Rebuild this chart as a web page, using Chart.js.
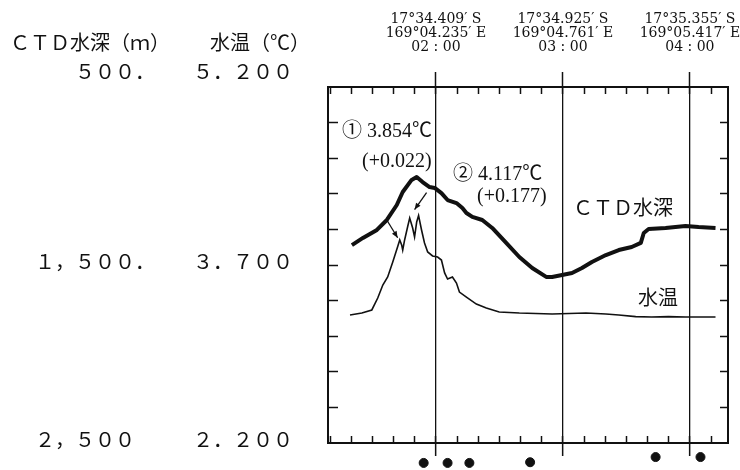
<!DOCTYPE html>
<html lang="ja">
<head>
<meta charset="utf-8">
<script src="https://cdn.jsdelivr.net/npm/chart.js@4.4.0/dist/chart.umd.min.js"></script>
<style>
  html, body { margin: 0; padding: 0; background: #fff; }
  #wrap { position: relative; width: 740px; height: 470px; }
</style>
</head>
<body>
<div id="wrap"><canvas id="grafico"></canvas></div>
<script>
// tempo em minutos desde 00:00
const depthTime = [80.3, 85.5, 92.1, 96.8, 101.5, 104.3, 108.5, 110.9, 113.7, 117.0, 119.4, 122.6, 125.5, 129.7, 132.5, 134.4, 137.2, 141.9, 146.6, 153.2, 159.4, 165.5, 172.1, 174.9, 179.6, 184.3, 189.0, 193.7, 200.3, 206.4, 212.5, 216.8, 218.2, 220.5, 228.5, 237.9, 244.1, 252.1];
const depthVal = [1388, 1348, 1303, 1247, 1163, 1090, 1022, 1006, 1034, 1062, 1067, 1096, 1135, 1152, 1180, 1208, 1230, 1247, 1292, 1376, 1455, 1517, 1567, 1567, 1556, 1545, 1517, 1483, 1444, 1416, 1399, 1376, 1320, 1298, 1292, 1281, 1287, 1292];

const tempTime = [79.4, 85.0, 89.7, 92.5, 94.9, 97.2, 99.6, 101.9, 102.9, 103.8, 104.3, 105.2, 106.6, 107.6, 109.0, 109.9, 110.9, 111.8, 113.2, 114.6, 116.1, 118.4, 120.8, 122.6, 124.1, 125.5, 127.8, 129.7, 131.1, 134.4, 139.1, 143.8, 149.9, 159.4, 174.9, 190.9, 200.3, 206.4, 214.4, 221.9, 229.9, 237.9, 252.1];
const tempVal = [3.279, 3.295, 3.321, 3.422, 3.531, 3.599, 3.725, 3.854, 3.911, 3.869, 3.826, 3.911, 4.020, 4.096, 4.012, 3.936, 4.062, 4.117, 3.995, 3.885, 3.810, 3.776, 3.767, 3.742, 3.633, 3.582, 3.599, 3.548, 3.472, 3.430, 3.371, 3.338, 3.304, 3.295, 3.287, 3.295, 3.287, 3.279, 3.265, 3.262, 3.265, 3.262, 3.262];

const stationTime = [114.2, 125.5, 135.8, 164.5, 223.8, 245.0];
const stationDepth = [2612, 2612, 2612, 2608, 2579, 2579];

// picos anotados (① e ②)
const notaTime = [101.9, 111.8];
const notaTemp = [3.854, 4.117];
const notaDelta = ['(+0.022)', '(+0.177)'];

const xMin = 69, xMax = 258;
const hourTicks = [120, 180, 240];
const hourLabels = [
  ['17°34.409′ S', '169°04.235′ E', '02 : 00'],
  ['17°34.925′ S', '169°04.761′ E', '03 : 00'],
  ['17°35.355′ S', '169°05.417′ E', '04 : 00']
];
const minorTicksX = [70, 80, 90, 100, 110, 120, 130, 140, 150, 160, 170, 180, 190, 200, 210, 220, 230, 240, 250];

const depthTicks = [500, 1500, 2500];
const depthLabels = ['　　５００．', '１，５００．', '２，５００'];
const tempTicks = [5.2, 3.7, 2.2];
const tempLabels = ['５．２００', '３．７００', '２．２００'];
const minorTicksDepth = [700, 900, 1100, 1300, 1500, 1700, 1900, 2100, 2300];

const tinta = '#111';
const fonteJp = "'Noto Sans CJK JP', sans-serif";
const fonteNum = "'Liberation Serif', 'Noto Sans CJK JP', serif";

Chart.defaults.font.family = fonteNum;
Chart.defaults.color = tinta;

const fixarTicks = lista => scale => { scale.ticks = lista.map(v => ({ value: v })); };
// sem folga extra para rótulos que passam da área do gráfico
const semFolga = (w, h) => s => {
  s.paddingLeft = 0; s.paddingRight = 0; s.paddingTop = 0; s.paddingBottom = 0;
  if (w !== undefined) s.width = w;
  if (h !== undefined) s.height = h;
};
// o rótulo do topo fica um pouco acima da borda (linha vazia embaixo)
const rotuloLado = (valores, textos) => v => {
  const i = valores.indexOf(v);
  return i === 0 ? [textos[i], ''] : textos[i];
};

function flecha(ctx, x1, y1, x2, y2) {
  const ang = Math.atan2(y2 - y1, x2 - x1);
  const h = 7;
  ctx.beginPath();
  ctx.moveTo(x1, y1);
  ctx.lineTo(x2, y2);
  ctx.stroke();
  ctx.beginPath();
  ctx.moveTo(x2, y2);
  ctx.lineTo(x2 - h * Math.cos(ang - 0.4), y2 - h * Math.sin(ang - 0.4));
  ctx.lineTo(x2 - h * Math.cos(ang + 0.4), y2 - h * Math.sin(ang + 0.4));
  ctx.closePath();
  ctx.fill();
}

const rotulos = {
  id: 'rotulos',
  afterDatasetsDraw(chart) {
    // estações abaixo do eixo: fora da área, desenhadas sem recorte
    const meta = chart.getDatasetMeta(2);
    const tudo = { left: 0, top: 0, right: chart.width, bottom: chart.height };
    meta.data.forEach(pt => pt.draw(chart.ctx, tudo));
  },
  afterDraw(chart) {
    const { ctx, chartArea: a, scales } = chart;
    ctx.save();
    ctx.fillStyle = tinta;
    ctx.strokeStyle = tinta;
    ctx.lineWidth = 1.3;
    ctx.textAlign = 'left';
    ctx.textBaseline = 'middle';

    // cabeçalhos dos eixos
    ctx.font = '20px ' + fonteJp;
    ctx.fillText('ＣＴＤ水深（ｍ）', scales.y.left - 25, 42);
    ctx.fillText('水温（℃）', scales.yTemp.left + 27, 42);

    // nomes das curvas
    ctx.fillText('ＣＴＤ水深', a.left + 245, 207);
    ctx.fillText('水温', a.left + 310, 297);

    // anotações dos picos
    ctx.font = '20px ' + fonteNum;
    ctx.fillText('① ' + notaTemp[0].toFixed(3) + '℃', a.left + 14, a.top + 45);
    ctx.fillText(notaDelta[0], a.left + 34, a.top + 75);
    ctx.fillText('② ' + notaTemp[1].toFixed(3) + '℃', a.left + 125, a.top + 88);
    ctx.fillText(notaDelta[1], a.left + 149, a.top + 110);

    const x = scales.x, yt = scales.yTemp;
    const p1x = x.getPixelForValue(notaTime[0]), p1y = yt.getPixelForValue(notaTemp[0]);
    const p2x = x.getPixelForValue(notaTime[1]), p2y = yt.getPixelForValue(notaTemp[1]);
    flecha(ctx, p1x - 11, p1y - 27, p1x, p1y - 9);
    flecha(ctx, p2x + 8, p2y - 23, p2x - 4, p2y - 6);
    ctx.restore();
  }
};

const ctx = document.getElementById('grafico');
new Chart(ctx, {
  type: 'line',
  data: {
    datasets: [
      {
        label: 'CTD水深',
        data: depthTime.map((t, i) => ({ x: t, y: depthVal[i] })),
        xAxisID: 'x',
        yAxisID: 'y',
        borderColor: tinta,
        borderWidth: 4,
        borderJoinStyle: 'round',
        pointRadius: 0,
        tension: 0
      },
      {
        label: '水温',
        data: tempTime.map((t, i) => ({ x: t, y: tempVal[i] })),
        xAxisID: 'x',
        yAxisID: 'yTemp',
        borderColor: tinta,
        borderWidth: 1.6,
        pointRadius: 0,
        tension: 0
      },
      {
        label: 'station',
        data: stationTime.map((t, i) => ({ x: t, y: stationDepth[i] })),
        xAxisID: 'x',
        yAxisID: 'y',
        showLine: false,
        pointRadius: 4.5,
        pointBackgroundColor: tinta,
        pointBorderColor: tinta,
        clip: false
      }
    ]
  },
  options: {
    responsive: true,
    maintainAspectRatio: false,
    animation: false,
    layout: { padding: { left: 35, right: 12, top: 9, bottom: 14 } },
    plugins: { legend: { display: false }, tooltip: { enabled: false } },
    scales: {
      x: {
        type: 'linear', position: 'bottom', weight: 0, min: xMin, max: xMax,
        afterBuildTicks: fixarTicks(minorTicksX),
        afterFit: semFolga(undefined, 0),
        ticks: { display: false },
        grid: { drawOnChartArea: false, tickLength: -7, tickColor: tinta, tickWidth: 1.5 },
        border: { display: true, color: tinta, width: 2 }
      },
      xHora: {
        type: 'linear', position: 'bottom', weight: 1, min: xMin, max: xMax,
        afterBuildTicks: fixarTicks(hourTicks),
        afterFit: semFolga(),
        ticks: { display: false },
        grid: { drawOnChartArea: true, color: tinta, lineWidth: 1.3, tickLength: 13, tickWidth: 1.5 },
        border: { display: false }
      },
      xTopo: {
        type: 'linear', position: 'top', weight: 0, min: xMin, max: xMax,
        afterBuildTicks: fixarTicks(minorTicksX),
        afterFit: semFolga(undefined, 0),
        ticks: { display: false },
        grid: { drawOnChartArea: false, tickLength: -7, tickColor: tinta, tickWidth: 1.5 },
        border: { display: true, color: tinta, width: 2 }
      },
      xRotulo: {
        type: 'linear', position: 'top', weight: 1, min: xMin, max: xMax,
        afterBuildTicks: fixarTicks(hourTicks),
        afterFit: semFolga(undefined, 78),
        ticks: {
          autoSkip: false, maxRotation: 0, minRotation: 0, padding: 18,
          font: { family: "'DejaVu Serif', serif", size: 14, lineHeight: 0.98 },
          callback: v => hourLabels[hourTicks.indexOf(v)]
        },
        grid: { drawOnChartArea: false, tickLength: 15, tickColor: tinta, tickWidth: 1.5 },
        border: { display: false }
      },
      yMarca: {
        type: 'linear', position: 'left', weight: 0, min: 500, max: 2500, reverse: true,
        afterBuildTicks: fixarTicks(minorTicksDepth),
        afterFit: semFolga(0),
        ticks: { display: false },
        grid: { drawOnChartArea: false, tickLength: -10, tickColor: tinta, tickWidth: 1.5 },
        border: { display: true, color: tinta, width: 2 }
      },
      yTemp: {
        type: 'linear', position: 'left', weight: 1, min: 2.2, max: 5.2,
        afterBuildTicks: fixarTicks(tempTicks),
        afterFit: semFolga(145),
        ticks: {
          padding: 35, labelOffset: -4,
          font: { family: fonteJp, size: 20, lineHeight: 1.2 },
          callback: rotuloLado(tempTicks, tempLabels)
        },
        grid: { display: false, drawTicks: false },
        border: { display: false }
      },
      y: {
        type: 'linear', position: 'left', weight: 2, min: 500, max: 2500, reverse: true,
        afterBuildTicks: fixarTicks(depthTicks),
        afterFit: semFolga(148),
        ticks: {
          crossAlign: 'far', labelOffset: -4,
          font: { family: fonteJp, size: 20, lineHeight: 1.2 },
          callback: rotuloLado(depthTicks, depthLabels)
        },
        grid: { display: false, drawTicks: false },
        border: { display: false }
      },
      yDir: {
        type: 'linear', position: 'right', weight: 0, min: 500, max: 2500, reverse: true,
        afterBuildTicks: fixarTicks(minorTicksDepth),
        afterFit: semFolga(0),
        ticks: { display: false },
        grid: { drawOnChartArea: false, tickLength: -8, tickColor: tinta, tickWidth: 1.5 },
        border: { display: true, color: tinta, width: 2 }
      }
    }
  },
  plugins: [rotulos]
});
</script>
</body>
</html>
